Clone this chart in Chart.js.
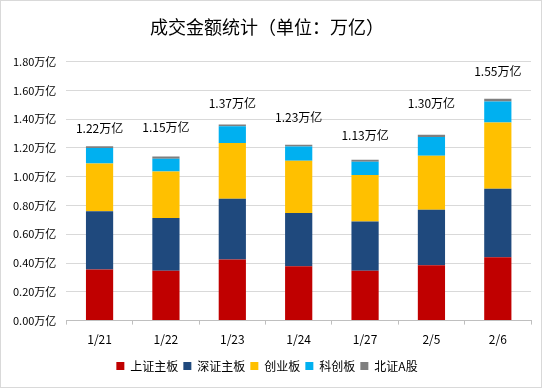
<!DOCTYPE html>
<html>
<head>
<meta charset="utf-8">
<script src="https://cdn.jsdelivr.net/npm/chart.js@4"></script>
<style>
  html, body { margin: 0; padding: 0; background: #fff; }
  #wrap { width: 540px; height: 386px; border: 1px solid #d9d9d9; position: relative; }
</style>
</head>
<body>
<div id="wrap"><canvas id="chart"></canvas></div>
<script>
// Data
const dates = ["1/21", "1/22", "1/23", "1/24", "1/27", "2/5", "2/6"];
const seriesNames = ["上证主板", "深证主板", "创业板", "科创板", "北证A股"];
const shMain = [0.355, 0.347, 0.424, 0.377, 0.347, 0.384, 0.440];
const szMain = [0.405, 0.366, 0.423, 0.371, 0.341, 0.387, 0.477];
const chiNext = [0.331, 0.324, 0.387, 0.363, 0.324, 0.375, 0.460];
const starMkt = [0.109, 0.088, 0.116, 0.099, 0.092, 0.130, 0.146];
const bjA = [0.012, 0.015, 0.013, 0.012, 0.014, 0.016, 0.019];
const totals = [1.22, 1.15, 1.37, 1.23, 1.13, 1.30, 1.55];

const colors = ["#C00000", "#1F497D", "#FFC000", "#00B0F0", "#7F7F7F"];
const font = "'Noto Sans CJK SC', 'Microsoft YaHei', sans-serif";
// how far each total label sits above its bar (px)
const labelGap = [18, 29, 21, 27, 24, 31, 27];

// Draw total labels above each stacked bar
const totalLabels = {
    id: "totalLabels",
    afterDatasetsDraw(chart) {
        const ctx = chart.ctx;
        const meta = chart.getDatasetMeta(chart.data.datasets.length - 1);
        ctx.save();
        ctx.font = "12px " + font;
        ctx.fillStyle = "#000";
        ctx.textAlign = "center";
        ctx.textBaseline = "middle";
        meta.data.forEach((bar, i) => {
            ctx.fillText(totals[i].toFixed(2) + "万亿", bar.x, bar.y - labelGap[i]);
        });
        ctx.restore();
    }
};

const allSeries = [shMain, szMain, chiNext, starMkt, bjA];

new Chart(document.getElementById("chart"), {
    type: "bar",
    data: {
        labels: dates,
        datasets: allSeries.map((d, i) => ({
            label: seriesNames[i],
            data: d,
            backgroundColor: colors[i],
            borderWidth: 0,
            categoryPercentage: 1,
            barPercentage: 0.41
        }))
    },
    options: {
        responsive: true,
        maintainAspectRatio: false,
        animation: false,
        layout: { padding: { left: 2, right: 10, top: 0, bottom: 5 } },
        plugins: {
            title: {
                display: true,
                text: "成交金额统计（单位：万亿）",
                color: "#000",
                font: { family: font, size: 18, weight: "normal" },
                padding: { top: 15, bottom: 24 }
            },
            legend: {
                position: "bottom",
                labels: {
                    color: "#000",
                    font: { family: font, size: 12 },
                    boxWidth: 8,
                    boxHeight: 8,
                    padding: 5
                }
            },
            tooltip: { enabled: false }
        },
        scales: {
            x: {
                stacked: true,
                grid: { display: true, drawOnChartArea: false, offset: true, tickLength: 4, color: "#bfbfbf" },
                border: { color: "#bfbfbf" },
                ticks: { color: "#000", font: { family: font, size: 12 }, padding: 8 }
            },
            y: {
                stacked: true,
                min: 0,
                max: 1.8,
                ticks: {
                    stepSize: 0.2,
                    color: "#000",
                    font: { family: font, size: 11 },
                    padding: 10,
                    callback: v => v.toFixed(2) + "万亿"
                },
                grid: { color: "#d9d9d9", drawTicks: false },
                border: { display: false }
            }
        }
    },
    plugins: [totalLabels]
});
</script>
</body>
</html>
